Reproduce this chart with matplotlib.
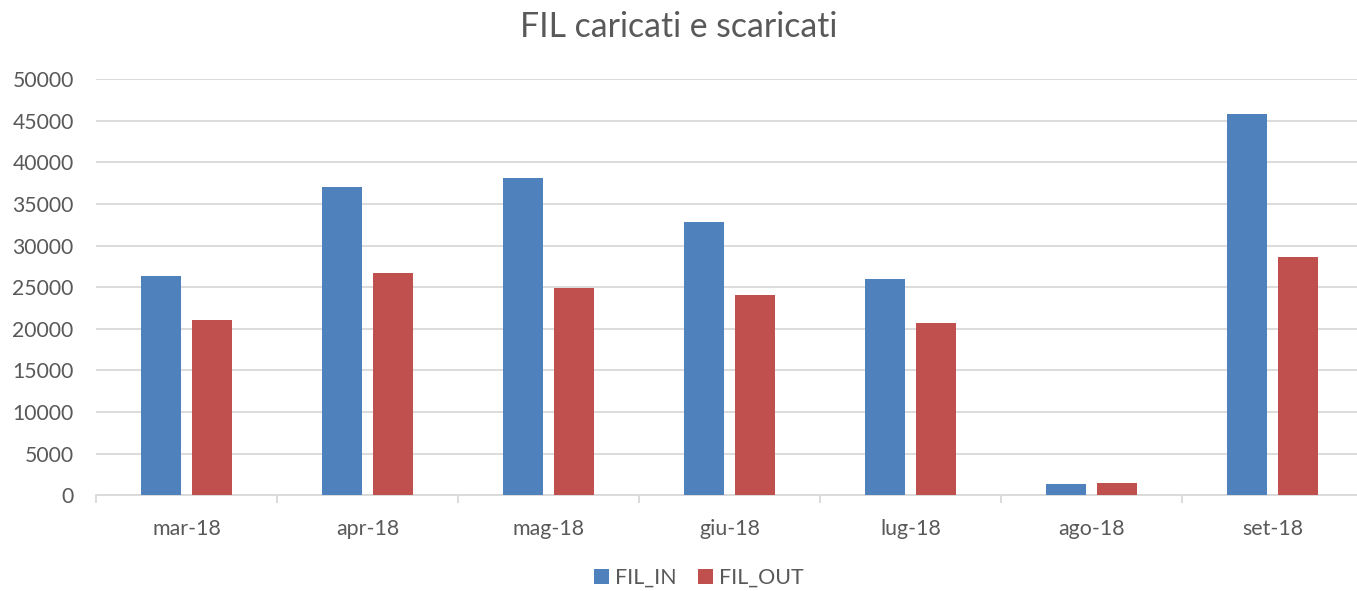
import numpy as np
import matplotlib.pyplot as plt

months = ['mar-18', 'apr-18', 'mag-18', 'giu-18', 'lug-18', 'ago-18', 'set-18']
fil_in = [26350, 37000, 38150, 32800, 26000, 1400, 45850]
fil_out = [21100, 26700, 24900, 24050, 20750, 1500, 28600]

plt.rcParams['font.family'] = ['Lato', 'DejaVu Sans']
grey = '#595959'

fig = plt.figure(figsize=(13.57, 5.91), dpi=100)
ax = fig.add_axes([0.0707, 0.162, 0.934, 0.704])

x = np.arange(len(months))
w = 0.222
ax.bar(x - 0.141, fil_in, w, color='#4F81BD', label='FIL_IN', zorder=3)
ax.bar(x + 0.141, fil_out, w, color='#C0504D', label='FIL_OUT', zorder=3)

ax.set_xlim(-0.5, len(months) - 0.5)
ax.set_ylim(0, 50000)
ax.set_yticks(range(0, 50001, 5000))
ax.set_xticks(x)
ax.set_xticklabels(months)
ax.set_xticks(np.arange(-0.5, len(months)), minor=True)
ax.yaxis.grid(True, color='#d9d9d9', linewidth=1.3, zorder=0)

for s in ['top', 'right', 'left']:
    ax.spines[s].set_visible(False)
ax.spines['bottom'].set_color('#d9d9d9')
ax.spines['bottom'].set_linewidth(1.3)
ax.tick_params(axis='x', which='major', length=0, pad=17, labelsize=15.4, labelcolor=grey)
ax.tick_params(axis='x', which='minor', length=6, color='#d9d9d9', width=1.3)
ax.tick_params(axis='y', length=0, pad=16, labelsize=15.2, labelcolor=grey)

fig.text(0.5, 0.955, 'FIL caricati e scaricati', ha='center', va='center',
         fontsize=24.3, color=grey)

fig.legend(loc='center', bbox_to_anchor=(0.515, 0.022), ncol=2, frameon=False,
           fontsize=15.4, labelcolor=grey, handlelength=0.7, handleheight=0.7,
           handletextpad=0.3, columnspacing=1.0)

fig.savefig('out.png', dpi=100)
